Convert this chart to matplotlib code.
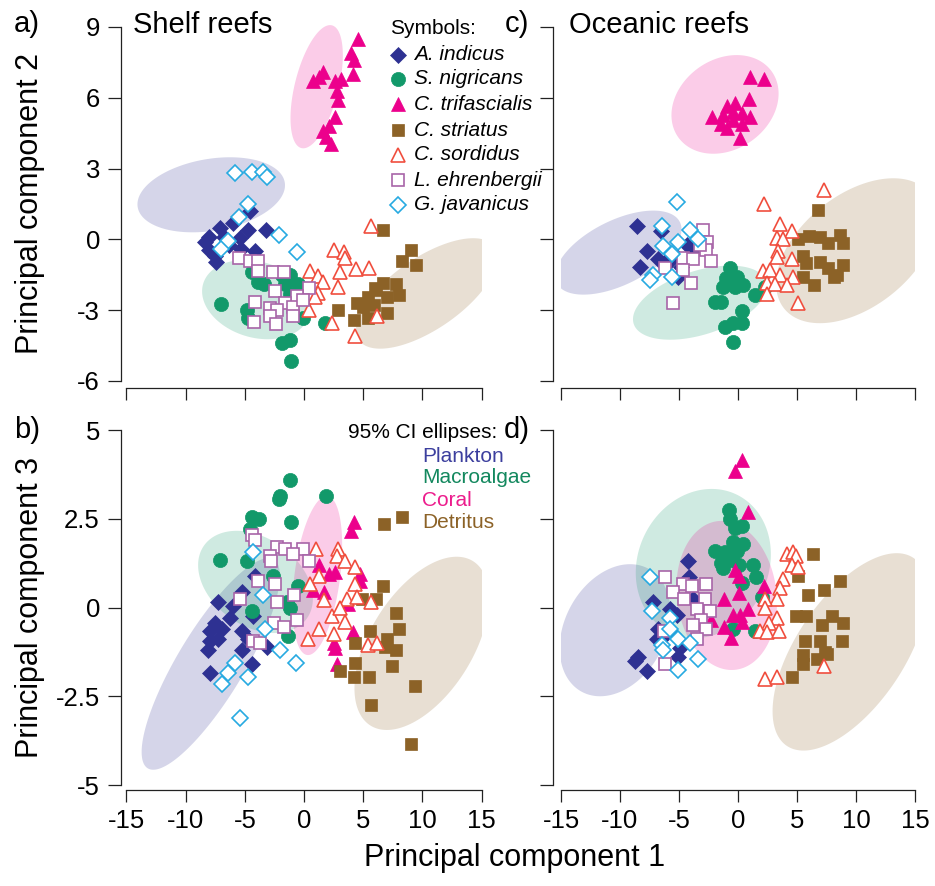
import numpy as np
import matplotlib
matplotlib.use('Agg')
import matplotlib.pyplot as plt
from matplotlib.patches import Polygon
from matplotlib.lines import Line2D

plt.rcParams['font.family'] = ['Liberation Sans', 'DejaVu Sans']
plt.rcParams['axes.unicode_minus'] = False

# ---------------- data (PC scores) ----------------
species = ['A. indicus', 'S. nigricans', 'C. trifascialis', 'C. striatus',
           'C. sordidus', 'L. ehrenbergii', 'G. javanicus']

# Shelf reefs, PC1 vs PC2
shelf12_indicus = [(-4.6,1.2),(-6.0,0.7),(-4.7,0.4),(-3.2,0.4),(-7.1,0.5),(-8.0,0.1),(-6.8,0.1),(-5.4,0.05),
                   (-5.3,-0.4),(-4.1,-0.5),(-8.0,-0.45),(-7.5,-0.7),(-7.4,-0.95),(-6.3,-0.25),(-8.4,-0.1)]
shelf12_nigricans = [(-7.0,-2.75),(-4.4,-1.4),(-3.9,-1.8),(-1.9,-1.5),(-1.2,-1.5),(-0.5,-1.9),(-1.6,-1.9),(-1.2,-2.3),
                     (-4.85,-3.0),(-4.7,-3.35),(-0.05,-3.35),(1.8,-3.55),(-1.9,-4.4),(-1.2,-4.25),(-1.1,-5.15),
                     (-3.4,-1.9),(-0.35,-2.2)]
shelf12_trifasc = [(0.8,6.7),(1.6,7.1),(1.3,6.9),(2.6,6.7),(3.1,6.8),(4.1,7.0),(4.0,7.9),(4.2,7.6),(4.6,8.5),
                   (2.8,6.3),(2.9,5.9),(2.6,5.2),(2.1,4.8),(1.6,4.6),(1.9,4.35),(2.3,4.05)]
shelf12_striatus = [(6.7,0.4),(9.0,-0.45),(8.3,-0.9),(9.5,-1.1),(6.7,-1.85),(6.0,-2.05),(7.8,-1.9),(8.0,-2.35),
                    (7.0,-2.45),(5.4,-2.45),(4.45,-2.7),(5.9,-2.8),(5.0,-2.85),(2.9,-3.0),(7.0,-3.1),(4.2,-3.4),
                    (5.4,-3.35),(6.1,-2.15)]
shelf12_sordidus = [(5.7,0.55),(2.5,-0.45),(3.4,-0.55),(3.5,-0.8),(0.5,-1.35),(1.2,-1.55),(1.6,-1.8),(3.0,-1.4),
                    (4.4,-1.25),(5.5,-1.2),(2.9,-2.0),(1.2,-2.25),(0.9,-2.45),(0.4,-3.0),(2.4,-3.55),(6.2,-3.25),
                    (4.3,-4.1)]
shelf12_ehren = [(-5.5,-0.8),(-4.6,-0.9),(-3.9,-0.9),(-3.9,-1.35),(-2.65,-1.4),(-1.7,-1.4),(-2.45,-2.2),(0.45,-2.05),
                 (-0.6,-2.4),(-4.15,-2.65),(-1.6,-2.7),(-0.9,-2.85),(-2.9,-2.9),(-2.25,-3.0),(-0.05,-2.55),
                 (-2.9,-3.25),(-0.95,-3.25),(-4.2,-3.5),(-2.4,-3.6)]
shelf12_javan = [(-5.8,2.8),(-4.4,2.85),(-3.5,2.85),(-3.15,2.65),(-4.7,1.5),(-5.5,0.95),(-2.1,0.2),(-0.6,-0.55),
                 (-6.4,-0.05),(-7.0,-0.4)]

# Oceanic reefs, PC1 vs PC2
ocean12_indicus = [(-8.6,0.55),(-6.5,0.35),(-7.7,-0.5),(-8.3,-1.15),(-6.75,-0.85),(-5.9,-1.0),(-5.05,-1.6),
                   (-4.35,-0.25),(-3.8,-0.45),(-5.2,-0.75),(-4.8,-1.15),(-6.3,-1.0)]
ocean12_nigricans = [(-0.7,-1.2),(-1.0,-1.65),(-0.1,-1.6),(-1.25,-2.0),(-0.25,-2.0),(0.45,-1.95),(1.45,-2.35),
                     (2.3,-2.0),(-1.95,-2.65),(-1.4,-2.65),(0.3,-3.05),(-1.1,-3.7),(-0.4,-3.55),(0.3,-3.55),(-0.4,-4.35)]
ocean12_trifasc = [(1.0,6.9),(2.2,6.8),(0.9,5.95),(-0.25,5.8),(-0.95,5.65),(-2.2,5.2),(-1.25,5.25),(-0.4,5.4),
                   (0.3,5.35),(1.0,5.2),(-1.4,4.9),(-0.95,4.7),(0.3,4.9),(0.15,4.3),(-0.4,5.05)]
ocean12_striatus = [(6.8,1.25),(5.1,0.0),(6.0,0.15),(6.95,0.1),(7.65,-0.15),(8.65,0.2),(8.9,-0.15),(5.5,-0.7),
                    (5.8,-1.0),(6.95,-0.95),(7.65,-1.2),(8.9,-1.1),(5.5,-1.6),(6.4,-1.95),(8.1,-1.6),(8.4,-1.5)]
ocean12_sordidus = [(7.3,2.1),(2.2,1.5),(3.6,0.65),(4.6,0.35),(3.3,0.05),(3.85,0.0),(3.4,-0.5),(3.3,-0.75),
                    (4.55,-0.85),(2.15,-1.35),(2.7,-1.3),(3.55,-1.5),(4.7,-1.6),(2.45,-1.85),(3.15,-1.9),
                    (4.15,-1.95),(2.45,-2.3),(5.05,-2.7)]
ocean12_ehren = [(-3.0,0.4),(-2.65,-0.1),(-2.7,-0.45),(-4.65,-0.8),(-3.8,-0.85),(-2.3,-0.9),(-6.2,-1.2),
                 (-4.7,-1.3),(-4.0,-1.85),(-5.5,-2.7),(-3.2,-0.25)]
ocean12_javan = [(-5.15,1.6),(-6.4,0.55),(-4.05,0.4),(-3.35,0.0),(-5.05,-0.1),(-6.35,-0.3),(-5.6,-0.6),
                 (-7.2,-1.5),(-7.45,-1.7),(-5.6,-1.6)]

# Shelf reefs, PC1 vs PC3
shelf13_indicus = [(-4.15,0.9),(-5.25,0.45),(-6.0,0.05),(-7.25,0.15),(-6.25,-0.3),(-7.5,-0.45),(-7.95,-0.65),
                   (-6.95,-0.6),(-5.25,-0.65),(-7.95,-0.95),(-7.25,-0.9),(-8.1,-1.2),(-5.25,-1.2),(-4.7,-0.9),
                   (-3.15,-1.1),(-4.4,-1.6),(-7.95,-1.85),(-4.3,-0.25)]
shelf13_nigricans = [(-1.2,3.6),(-2.05,3.15),(-2.1,3.05),(1.85,3.15),(-4.4,2.55),(-3.8,2.5),(-1.1,2.4),(-7.1,1.35),
                     (-4.8,1.3),(-2.6,0.9),(-0.5,0.6),(-4.4,-0.1),(-1.45,0.15),(-1.2,0.0),(-1.35,-0.8),(-4.55,2.2)]
shelf13_trifasc = [(4.2,2.4),(4.0,2.15),(1.3,1.2),(2.1,0.95),(2.6,1.0),(4.7,0.95),(0.75,0.5),(1.65,0.45),
                   (4.7,0.75),(3.75,0.1),(4.15,-0.7),(2.5,-1.0),(2.6,-1.15),(2.8,-1.6)]
shelf13_striatus = [(6.75,2.35),(8.25,2.55),(6.65,0.6),(4.9,0.25),(6.1,0.25),(7.8,-0.15),(8.05,-0.6),(5.6,-0.65),
                    (4.3,-1.0),(7.0,-0.9),(6.85,-1.1),(7.8,-1.2),(4.3,-1.55),(7.4,-1.65),(3.05,-1.8),(4.25,-1.95),
                    (5.5,-1.95),(9.4,-2.2),(5.65,-2.75),(9.0,-3.85)]
shelf13_sordidus = [(1.0,1.65),(2.9,1.65),(2.75,1.45),(3.45,1.3),(4.3,1.15),(1.3,0.9),(0.5,0.65),(4.3,0.65),
                    (1.65,0.2),(3.6,0.25),(4.5,0.3),(5.7,0.15),(2.35,-0.25),(3.05,0.0),(3.45,-0.4),(1.3,-0.6),
                    (0.35,-0.9),(2.55,-0.75),(5.45,-1.05),(6.15,-1.0)]
shelf13_ehren = [(-4.4,2.05),(-4.15,1.9),(-2.3,1.7),(-1.6,1.65),(-0.1,1.65),(-2.85,1.45),(-2.75,1.3),(-0.95,1.5),
                 (0.45,1.3),(-3.85,0.75),(-2.45,0.65),(-0.85,0.35),(-5.45,0.25),(-2.3,0.15),(-0.6,-0.35),
                 (-2.55,-0.45),(-1.7,-0.55),(-4.3,-0.95),(-3.7,-1.0)]
shelf13_javan = [(-4.35,1.55),(-3.45,0.35),(-3.3,-0.6),(-2.0,-1.2),(-0.7,-1.55),(-5.85,-1.55),(-6.4,-1.85),
                 (-4.75,-1.95),(-6.95,-2.15),(-5.45,-3.1)]

# Oceanic reefs, PC1 vs PC3
ocean13_indicus = [(-4.2,1.3),(-4.15,0.85),(-7.2,0.15),(-5.75,-0.05),(-5.2,-0.2),(-6.75,-0.6),(-6.9,-0.9),
                   (-6.3,-0.8),(-5.5,-0.75),(-4.9,-1.15),(-5.05,-1.4),(-3.8,0.25),(-8.5,-1.4),(-8.7,-1.5),(-7.75,-1.8)]
ocean13_nigricans = [(-0.8,2.75),(-0.7,2.5),(-0.25,2.25),(0.3,2.3),(-0.4,1.85),(0.4,1.8),(-1.95,1.6),(-1.1,1.55),
                     (-0.1,1.6),(-0.55,1.35),(-1.4,1.25),(0.05,1.2),(1.3,1.2),(1.55,0.85),(0.3,0.7),(-1.25,1.1),
                     (2.0,0.3),(-0.4,-0.6),(1.45,-0.65)]
ocean13_trifasc = [(0.3,4.15),(-0.25,3.85),(0.85,2.7),(-0.25,1.05),(2.2,0.6),(0.1,0.4),(-1.15,0.25),(0.85,-0.05),
                   (-0.4,-0.2),(0.15,-0.2),(0.3,-0.4),(-1.15,-0.55),(-0.6,-0.85),(-2.25,-0.35),(0.05,0.9)]
ocean13_striatus = [(6.35,1.5),(5.05,0.9),(7.3,0.5),(5.95,0.35),(4.95,-0.25),(5.8,-0.25),(7.1,-0.5),(7.95,-0.25),
                    (5.7,-0.95),(6.95,-0.95),(7.4,-1.25),(5.55,-1.35),(5.5,-1.6),(6.7,-1.45),(4.6,-1.95),
                    (8.65,0.75),(8.9,-0.45),(8.8,-0.95),(7.5,-1.3)]
ocean13_sordidus = [(4.15,1.5),(4.7,1.55),(4.95,1.45),(4.55,1.2),(5.1,1.15),(3.8,0.8),(3.55,0.55),(3.3,0.25),
                    (2.3,0.25),(2.3,0.0),(3.3,-0.3),(2.65,-0.45),(1.85,-0.65),(2.45,-0.7),(3.45,-0.65),
                    (7.25,-1.65),(2.3,-2.0),(3.3,-1.95)]
ocean13_ehren = [(-6.15,0.85),(-4.65,0.65),(-3.9,0.6),(-2.7,0.65),(-5.5,0.45),(-4.6,0.25),(-2.8,0.25),(-3.5,-0.05),
                 (-2.35,-0.1),(-3.1,-0.35),(-3.85,-0.5),(-2.7,-0.6),(-6.25,-0.65),(-3.5,-0.9),(-6.2,-1.6)]
ocean13_javan = [(-7.45,0.85),(-7.3,-0.1),(-5.75,-0.3),(-5.75,-0.6),(-5.1,-0.9),(-4.05,-1.0),(-6.45,-1.05),
                 (-6.35,-1.2),(-3.35,-1.45),(-5.1,-1.75)]

# 95% CI ellipses per diet group: centre, uppermost point, half-width of horizontal chord through centre
diet_groups = ['Plankton', 'Macroalgae', 'Coral', 'Detritus']
shelf12_ellipses = [((-7.84,1.89),(-6.26,3.48),6.03), ((-4.03,-2.55),(-4.99,-0.87),4.48),
                    ((1.07,6.47),(2.2,9.08),1.9), ((10.37,-2.29),(14.3,0.05),4.5)]
ocean12_ellipses = [((-10.14,-0.56),(-7.18,1.22),4.46), ((-3.22,-2.68),(-0.68,-1.11),5.08),
                    ((-1.1,5.72),(-0.11,7.81),4.43), ((10.05,-0.48),(13.16,2.59),6.07)]
shelf13_ellipses = [((-7.88,-1.59),(-3.02,1.39),3.24), ((-4.1,0.72),(-5.69,2.16),4.58),
                    ((1.13,0.9),(1.92,3.14),1.94), ((9.95,-1.01),(12.9,1.43),4.86)]
ocean13_ellipses = [((-10.42,-0.64),(-9.15,1.22),4.52), ((-2.94,1.24),(-2.23,3.34),5.68),
                    ((-0.96,0.34),(-1.38,2.44),4.24), ((9.5,-1.25),(13.45,1.53),5.25)]

x_ticks = [-15, -10, -5, 0, 5, 10, 15]
pc2_ticks = [-6, -3, 0, 3, 6, 9]
pc3_ticks = [-5, -2.5, 0, 2.5, 5]
pc3_ticklabels = ['-5', '-2.5', '0', '2.5', '5']

# ---------------- styles ----------------
sp_style = {
    'A. indicus':     dict(marker='D', ms=8.3, mfc='#2E3192', mec='#2E3192', mew=0.5),
    'S. nigricans':   dict(marker='o', ms=10.2, mfc='#12996A', mec='#12996A', mew=0.5),
    'C. trifascialis': dict(marker='^', ms=10.0, mfc='#EC008C', mec='#EC008C', mew=0.5),
    'C. striatus':    dict(marker='s', ms=8.8, mfc='#8C6227', mec='#8C6227', mew=0.5),
    'C. sordidus':    dict(marker='^', ms=9.6, mfc='white', mec='#F04E3E', mew=1.2),
    'L. ehrenbergii': dict(marker='s', ms=8.4, mfc='white', mec='#A865A8', mew=1.2),
    'G. javanicus':   dict(marker='D', ms=7.8, mfc='white', mec='#27AAE1', mew=1.2),
}
diet_colors = {'Plankton': '#2E3192', 'Macroalgae': '#12996A', 'Coral': '#EC008C', 'Detritus': '#8C6227'}
diet_text_colors = {'Plankton': '#3C3F9E', 'Macroalgae': '#13885E', 'Coral': '#EC1C8C', 'Detritus': '#8C6227'}

W, H = 935, 886
fig = plt.figure(figsize=(W / 100, H / 100), dpi=100)


def fx(px):
    return px / W


def fy(py):
    return 1 - py / H


def make_axes(x0, x1, ytop, ybot):
    return fig.add_axes([fx(x0), fy(ybot), (x1 - x0) / W, (ybot - ytop) / H])


TICKFS = 18.5

def style_axes(ax, ylim, yticks, ylabels, left_out, bottom_out, show_x, show_y):
    ax.set_xlim(-15, 15)
    ax.set_ylim(*ylim)
    for s in ['top', 'right']:
        ax.spines[s].set_visible(False)
    ax.spines['left'].set_position(('outward', left_out))
    ax.spines['bottom'].set_position(('outward', bottom_out))
    ax.spines['left'].set_bounds(yticks[0], yticks[-1])
    ax.spines['bottom'].set_bounds(-15, 15)
    for s in ['left', 'bottom']:
        ax.spines[s].set_linewidth(0.9)
        ax.spines[s].set_color('#222222')
    ax.set_xticks(x_ticks)
    ax.set_yticks(yticks)
    ax.set_yticklabels(ylabels)
    ax.tick_params(axis='y', direction='out', length=9.5, width=0.9, color='#222222',
                   labelsize=TICKFS, pad=6, labelleft=show_y)
    ax.tick_params(axis='x', direction='out', length=8.5, width=0.9, color='#222222',
                   labelsize=TICKFS, pad=5, labelbottom=show_x)
    ax.patch.set_visible(False)


def draw_ellipses(ax, ellipses):
    t = np.linspace(0, 2 * np.pi, 240)
    for (c, top, hw), g in zip(ellipses, diet_groups):
        ax_, ay_ = top[0] - c[0], top[1] - c[1]
        xs = c[0] + np.cos(t) * ax_ + np.sin(t) * hw
        ys = c[1] + np.cos(t) * ay_
        ax.add_patch(Polygon(np.column_stack([xs, ys]), closed=True, facecolor=diet_colors[g],
                             alpha=0.2, edgecolor='none', zorder=1))


def draw_points(ax, groups):
    for name, pts in zip(species, groups):
        arr = np.array(pts)
        ax.plot(arr[:, 0], arr[:, 1], ls='none', zorder=3, **sp_style[name])


ax_a = make_axes(126.5, 481.5, 27 - 0.08 * 23.6, 381)
ax_c = make_axes(561, 915, 27 - 0.08 * 23.6, 381)
ax_b = make_axes(126.5, 481.5, 430, 785)
ax_d = make_axes(561, 915, 430, 785)

style_axes(ax_a, (-6, 9.08), pc2_ticks, [str(v) for v in pc2_ticks], 3.6, 5.0, False, True)
style_axes(ax_c, (-6, 9.08), pc2_ticks, [str(v) for v in pc2_ticks], 5.8, 5.0, False, False)
style_axes(ax_b, (-5, 5), pc3_ticks, pc3_ticklabels, 3.6, 3.6, True, True)
style_axes(ax_d, (-5, 5), pc3_ticks, pc3_ticklabels, 5.8, 3.6, True, False)

draw_ellipses(ax_a, shelf12_ellipses)
draw_ellipses(ax_c, ocean12_ellipses)
draw_ellipses(ax_b, shelf13_ellipses)
draw_ellipses(ax_d, ocean13_ellipses)

draw_points(ax_a, [shelf12_indicus, shelf12_nigricans, shelf12_trifasc, shelf12_striatus,
                   shelf12_sordidus, shelf12_ehren, shelf12_javan])
draw_points(ax_c, [ocean12_indicus, ocean12_nigricans, ocean12_trifasc, ocean12_striatus,
                   ocean12_sordidus, ocean12_ehren, ocean12_javan])
draw_points(ax_b, [shelf13_indicus, shelf13_nigricans, shelf13_trifasc, shelf13_striatus,
                   shelf13_sordidus, shelf13_ehren, shelf13_javan])
draw_points(ax_d, [ocean13_indicus, ocean13_nigricans, ocean13_trifasc, ocean13_striatus,
                   ocean13_sordidus, ocean13_ehren, ocean13_javan])

# ---------------- texts ----------------
PANELFS = 21
fig.text(fx(14), fy(24), 'a)', fontsize=PANELFS, va='center', ha='left')
fig.text(fx(133), fy(33), 'Shelf reefs', fontsize=PANELFS, va='baseline', ha='left')
fig.text(fx(505), fy(24), 'c)', fontsize=PANELFS, va='center', ha='left')
fig.text(fx(569), fy(33), 'Oceanic reefs', fontsize=PANELFS, va='baseline', ha='left')
fig.text(fx(14), fy(430), 'b)', fontsize=PANELFS, va='center', ha='left')
fig.text(fx(504), fy(430), 'd)', fontsize=PANELFS, va='center', ha='left')

LABFS = 22
fig.text(fx(30), fy(204), 'Principal component 2', fontsize=LABFS, rotation=90, va='center', ha='center')
fig.text(fx(30), fy(607), 'Principal component 3', fontsize=LABFS, rotation=90, va='center', ha='center')
fig.text(fx(515), fy(858), 'Principal component 1', fontsize=LABFS, va='center', ha='center')

# symbol legend
LEGFS = 15
fig.text(fx(390), fy(29), 'Symbols:', fontsize=LEGFS, va='center', ha='left')
leg_y = [55, 79, 104, 130, 155, 180, 205]
for name, yy in zip(species, leg_y):
    fig.add_artist(Line2D([fx(398)], [fy(yy)], transform=fig.transFigure, ls='none', zorder=5,
                          **sp_style[name]))
    fig.text(fx(414), fy(yy), name, fontsize=LEGFS, style='italic', va='center', ha='left')

# ellipse legend
fig.text(fx(348), fy(433), '95% CI ellipses:', fontsize=LEGFS, va='center', ha='left')
for g, yy in zip(diet_groups, [456, 478, 500, 522]):
    fig.text(fx(422), fy(yy), g, fontsize=LEGFS, color=diet_text_colors[g], va='center', ha='left')

fig.savefig('out.png', dpi=100)
